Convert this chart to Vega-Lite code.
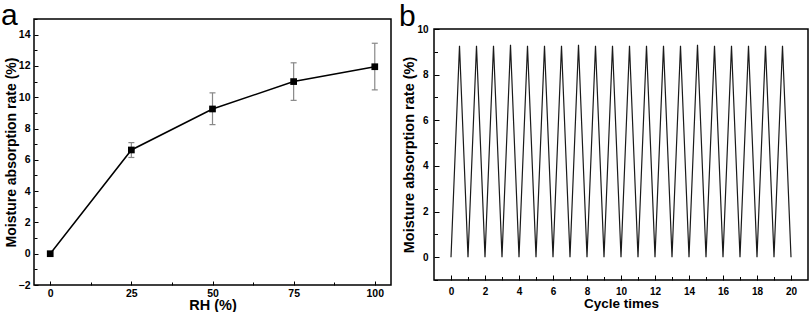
{
  "$schema": "https://vega.github.io/schema/vega-lite/v6.json",
  "padding": {"left": 0, "top": 0, "right": 2, "bottom": 2},
  "config": {
    "font": "Liberation Sans",
    "view": {"stroke": "#000", "strokeWidth": 1.5},
    "axis": {"domain": false, "grid": false, "labelFont": "Liberation Sans", "labelFontWeight": "bold", "labelFontSize": 10.5, "labelColor": "#000", "tickColor": "#000", "tickWidth": 1, "titleFont": "Liberation Sans", "titleFontWeight": "bold", "titleColor": "#000"}
  },
  "spacing": 7,
  "hconcat": [
    {
      "width": 357,
      "height": 266,
      "data": {"values": [
        {"rh": 0, "rate": 0, "lo": 0, "hi": 0},
        {"rh": 25, "rate": 6.63, "lo": 6.15, "hi": 7.1},
        {"rh": 50, "rate": 9.25, "lo": 8.25, "hi": 10.28},
        {"rh": 75, "rate": 11.0, "lo": 9.8, "hi": 12.2},
        {"rh": 100, "rate": 11.95, "lo": 10.47, "hi": 13.45}
      ]},
      "resolve": {"axis": {"x": "independent", "y": "independent"}},
      "layer": [
        {
          "transform": [{"filter": "datum.rh > 0"}],
          "mark": {"type": "rule", "color": "#888", "strokeWidth": 1.2},
          "encoding": {
            "x": {"field": "rh", "type": "quantitative", "scale": {"domain": [-5, 105], "nice": false, "zero": false},
                  "axis": {"orient": "bottom", "values": [12.5, 37.5, 62.5, 87.5], "labels": false, "title": null, "tickSize": -3}},
            "y": {"field": "lo", "type": "quantitative", "scale": {"domain": [-2, 15], "nice": false, "zero": false},
                  "axis": {"orient": "left", "values": [-1, 1, 3, 5, 7, 9, 11, 13, 15], "labels": false, "title": null, "tickSize": -3}},
            "y2": {"field": "hi"}
          }
        },
        {
          "transform": [{"filter": "datum.rh > 0"}],
          "mark": {"type": "tick", "orient": "horizontal", "color": "#888", "thickness": 1.2, "size": 6, "opacity": 1},
          "encoding": {
            "x": {"field": "rh", "type": "quantitative", "axis": null},
            "y": {"field": "lo", "type": "quantitative", "axis": null}
          }
        },
        {
          "transform": [{"filter": "datum.rh > 0"}],
          "mark": {"type": "tick", "orient": "horizontal", "color": "#888", "thickness": 1.2, "size": 6, "opacity": 1},
          "encoding": {
            "x": {"field": "rh", "type": "quantitative", "axis": null},
            "y": {"field": "hi", "type": "quantitative", "axis": null}
          }
        },
        {
          "mark": {"type": "line", "color": "#000", "strokeWidth": 1.5},
          "encoding": {
            "x": {"field": "rh", "type": "quantitative",
                  "axis": {"orient": "bottom", "values": [0, 25, 50, 75, 100], "title": "RH (%)", "titleFontSize": 14.5, "tickSize": -4, "labelPadding": 7, "titlePadding": 0}},
            "y": {"field": "rate", "type": "quantitative",
                  "axis": {"orient": "left", "values": [-2, 0, 2, 4, 6, 8, 10, 12, 14], "title": "Moisture absorption rate (%)", "titleFontSize": 14, "tickSize": -4, "labelPadding": 8, "titlePadding": 0}}
          }
        },
        {
          "mark": {"type": "square", "color": "#000", "size": 45, "opacity": 1},
          "encoding": {
            "x": {"field": "rh", "type": "quantitative", "axis": null},
            "y": {"field": "rate", "type": "quantitative", "axis": null}
          }
        },
        {
          "data": {"values": [{"panel": "a"}]},
          "mark": {"type": "text", "font": "Liberation Sans", "fontSize": 30, "fontWeight": "normal", "color": "#000", "align": "left", "baseline": "alphabetic", "dx": -33, "dy": 6},
          "encoding": {
            "x": {"datum": -5, "type": "quantitative", "axis": null},
            "y": {"datum": 15, "type": "quantitative", "axis": null},
            "text": {"field": "panel"}
          }
        }
      ]
    },
    {
      "spacing": 0,
      "bounds": "flush",
      "vconcat": [
        {
          "width": 374,
          "height": 10,
          "view": {"stroke": null},
          "data": {"values": [{"panel": "b"}]},
          "mark": {"type": "text", "font": "Liberation Sans", "fontSize": 30, "fontWeight": "normal", "color": "#000", "align": "left", "baseline": "alphabetic", "dx": -35, "dy": 7},
          "encoding": {
            "x": {"datum": -1, "type": "quantitative", "scale": {"domain": [-1, 21], "nice": false, "zero": false}, "axis": null},
            "y": {"datum": 1, "type": "quantitative", "scale": {"domain": [0, 1], "nice": false, "zero": false}, "axis": null},
            "text": {"field": "panel"}
          }
        },
        {
          "width": 374,
          "height": 251,
          "data": {"values": [
            {"cycle": 0, "rate": 0}, {"cycle": 0.5, "rate": 9.27},
            {"cycle": 1, "rate": 0}, {"cycle": 1.5, "rate": 9.27},
            {"cycle": 2, "rate": 0}, {"cycle": 2.5, "rate": 9.27},
            {"cycle": 3, "rate": 0}, {"cycle": 3.5, "rate": 9.31},
            {"cycle": 4, "rate": 0}, {"cycle": 4.5, "rate": 9.27},
            {"cycle": 5, "rate": 0}, {"cycle": 5.5, "rate": 9.27},
            {"cycle": 6, "rate": 0}, {"cycle": 6.5, "rate": 9.27},
            {"cycle": 7, "rate": 0}, {"cycle": 7.5, "rate": 9.31},
            {"cycle": 8, "rate": 0}, {"cycle": 8.5, "rate": 9.27},
            {"cycle": 9, "rate": 0}, {"cycle": 9.5, "rate": 9.27},
            {"cycle": 10, "rate": 0}, {"cycle": 10.5, "rate": 9.27},
            {"cycle": 11, "rate": 0}, {"cycle": 11.5, "rate": 9.27},
            {"cycle": 12, "rate": 0}, {"cycle": 12.5, "rate": 9.26},
            {"cycle": 13, "rate": 0}, {"cycle": 13.5, "rate": 9.27},
            {"cycle": 14, "rate": 0}, {"cycle": 14.5, "rate": 9.31},
            {"cycle": 15, "rate": 0}, {"cycle": 15.5, "rate": 9.27},
            {"cycle": 16, "rate": 0}, {"cycle": 16.5, "rate": 9.27},
            {"cycle": 17, "rate": 0}, {"cycle": 17.5, "rate": 9.27},
            {"cycle": 18, "rate": 0}, {"cycle": 18.5, "rate": 9.26},
            {"cycle": 19, "rate": 0}, {"cycle": 19.5, "rate": 9.27},
            {"cycle": 20, "rate": 0}
          ]},
          "resolve": {"axis": {"x": "independent", "y": "independent"}},
          "layer": [
            {
              "mark": {"type": "line", "color": "#1a1a1a", "strokeWidth": 1.2},
              "encoding": {
                "x": {"field": "cycle", "type": "quantitative", "scale": {"domain": [-1, 21], "nice": false, "zero": false},
                      "axis": {"orient": "bottom", "values": [0, 2, 4, 6, 8, 10, 12, 14, 16, 18, 20], "title": "Cycle times", "titleFontSize": 13.5, "labelFontSize": 10, "tickSize": -5, "labelPadding": 11, "titlePadding": 0.5}},
                "y": {"field": "rate", "type": "quantitative", "scale": {"domain": [-1, 10], "nice": false, "zero": false},
                      "axis": {"orient": "left", "values": [0, 2, 4, 6, 8, 10], "title": "Moisture absorption rate (%)", "titleFontSize": 14.5, "labelFontSize": 10, "tickSize": -5, "labelPadding": 11, "titlePadding": 0}}
              }
            },
            {
              "mark": {"type": "line", "opacity": 0},
              "encoding": {
                "x": {"field": "cycle", "type": "quantitative",
                      "axis": {"orient": "bottom", "values": [1, 3, 5, 7, 9, 11, 13, 15, 17, 19], "labels": false, "title": null, "tickSize": -3.5}},
                "y": {"field": "rate", "type": "quantitative",
                      "axis": {"orient": "left", "values": [-1, 1, 3, 5, 7, 9], "labels": false, "title": null, "tickSize": -3.5}}
              }
            }
          ]
        }
      ]
    }
  ]
}
